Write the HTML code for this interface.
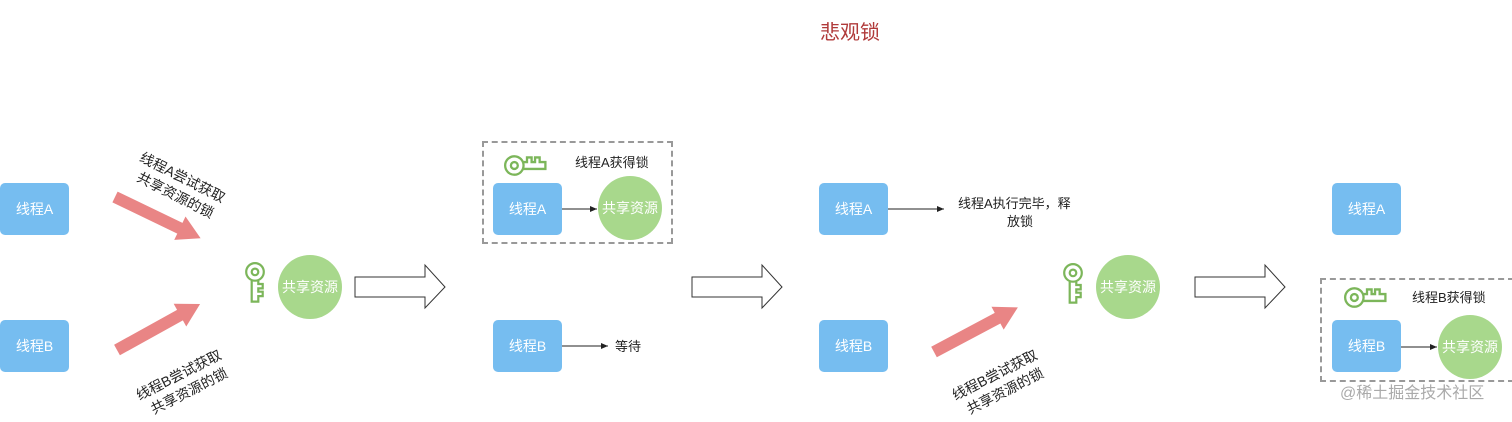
<!DOCTYPE html>
<html><head><meta charset="utf-8"><style>
body{margin:0;width:1512px;height:419px;background:#fff;position:relative;overflow:hidden;font-family:"Liberation Sans","Noto Sans CJK SC",sans-serif;}
.b{position:absolute;width:69px;height:52px;background:#76bdf0;border-radius:5px;color:#fff;font-size:14px;line-height:52px;text-align:center;}
.c{position:absolute;width:64px;height:64px;border-radius:50%;background:#a8d88c;color:#fff;font-size:14px;line-height:64px;text-align:center;}
.t{position:absolute;font-size:13px;color:#222;white-space:nowrap;line-height:18px;}
.r{font-size:14px;line-height:19px;text-align:center;transform-origin:0 0;}
.d{position:absolute;border:2px dashed #999;}
</style></head><body>
<div class="t" style="left:820px;top:20px;font-size:20px;color:#b03a3a;line-height:26px">悲观锁</div>

<div class="d" style="left:482px;top:141px;width:187px;height:99px"></div>
<div class="d" style="left:1320px;top:278px;width:190px;height:100px"></div>

<div class="b" style="left:0;top:183px">线程A</div>
<div class="b" style="left:0;top:320px">线程B</div>
<div class="c" style="left:278px;top:255px">共享资源</div>

<div class="b" style="left:493px;top:183px">线程A</div>
<div class="c" style="left:598px;top:176px">共享资源</div>
<div class="b" style="left:493px;top:320px">线程B</div>
<div class="t" style="left:575px;top:154px">线程A获得锁</div>
<div class="t" style="left:615px;top:338px">等待</div>

<div class="b" style="left:819px;top:183px">线程A</div>
<div class="b" style="left:819px;top:320px">线程B</div>
<div class="c" style="left:1096px;top:255px">共享资源</div>
<div class="t" style="left:958px;top:195px">线程A执行完毕，释</div>
<div class="t" style="left:1007px;top:213px">放锁</div>

<div class="b" style="left:1332px;top:183px">线程A</div>
<div class="b" style="left:1332px;top:320px">线程B</div>
<div class="c" style="left:1438px;top:315px">共享资源</div>
<div class="t" style="left:1412px;top:289px">线程B获得锁</div>
<div class="t" style="left:1340px;top:383px;font-size:16px;color:#aaa;line-height:22px">@稀土掘金技术社区</div>

<div class="t r" style="left:145px;top:148px;transform:rotate(27deg)">线程A尝试获取<br>&nbsp;共享资源的锁</div>
<div class="t r" style="left:133px;top:388px;transform:rotate(-27deg)">线程B尝试获取<br>&nbsp;共享资源的锁</div>
<div class="t r" style="left:949px;top:388px;transform:rotate(-27deg)">线程B尝试获取<br>&nbsp;共享资源的锁</div>

<svg width="1512" height="419" style="position:absolute;left:0;top:0">
<defs><marker id="m" markerWidth="8" markerHeight="8" refX="7" refY="4" orient="auto"><path d="M0,1L7,4L0,7z" fill="#222"/></marker>
<g id="key" fill="none" stroke="#7cb65a" stroke-width="2"><circle cx="10" cy="9" r="8"/><circle cx="10" cy="9" r="3"/><path d="M7,17V36H13V31H17V27H13V24H17V20H13V17"/></g>
<polygon id="ra" points="0,-6 72,-6 72,-13 95,0 72,13 72,6 0,6" fill="#e98585"/></defs>
<use href="#ra" transform="translate(115,197) rotate(25.7)"/>
<use href="#ra" transform="translate(117,350) rotate(-29)"/>
<use href="#ra" transform="translate(934,352) rotate(-28)"/>
<g fill="#fff" stroke="#333" stroke-width="1">
<polygon points="355,277 425,277 425,265 445,287 425,308 425,297 355,297"/>
<polygon points="692,277 762,277 762,265 782,287 762,308 762,297 692,297"/>
<polygon points="1195,277 1265,277 1265,265 1285,287 1265,308 1265,297 1195,297"/>
</g>
<g stroke="#222" stroke-width="1" marker-end="url(#m)">
<line x1="562" y1="209" x2="597" y2="209"/>
<line x1="562" y1="346" x2="608" y2="346"/>
<line x1="888" y1="209" x2="944" y2="209"/>
<line x1="1401" y1="347" x2="1437" y2="347"/>
</g>
<use href="#key" transform="translate(244,262) scale(1.1)"/>
<use href="#key" transform="translate(1062,263) scale(1.1)"/>
<use href="#key" transform="translate(504,177) rotate(-90) scale(1.15)"/>
<use href="#key" transform="translate(1344,309) rotate(-90) scale(1.15)"/>
</svg>
</body></html>
